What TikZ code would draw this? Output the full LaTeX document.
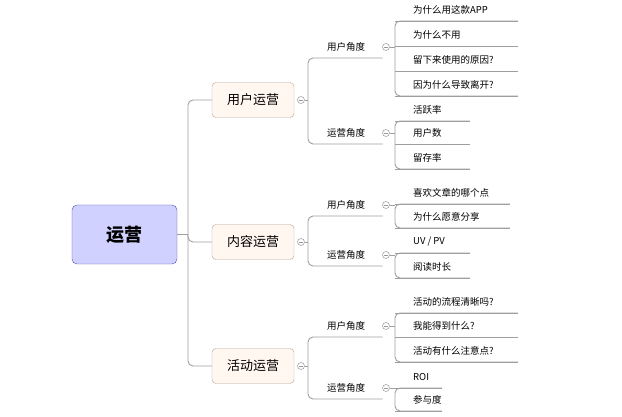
\documentclass[tikz,border=0pt]{standalone}
\usepackage{fontspec}
\newfontfamily\cjk{Noto Sans CJK SC}
\newcommand\uvpvtext{UV / PV}
\begin{document}
\begin{tikzpicture}[x=1pt,y=-1pt,
  ln/.style={draw=gray!75,line width=0.9pt,rounded corners=5pt},
  mid/.style={draw=brown!35!gray!70,fill=orange!6,rounded corners=4pt,minimum width=82pt,minimum height=35pt,font=\cjk\fontsize{13}{15}\selectfont},
  cat/.style={font=\cjk\fontsize{9.5}{11}\selectfont,anchor=west,inner sep=0pt},
  leaf/.style={font=\cjk\fontsize{9.5}{11}\selectfont,anchor=west,inner sep=0pt},
  col/.style={circle,draw=gray!70,fill=white,minimum size=7pt,inner sep=0pt,line width=0.6pt,
    path picture={\draw[gray!80,line width=0.5pt] ([xshift=-2pt]path picture bounding box.center)--([xshift=2pt]path picture bounding box.center);}}]
\useasboundingbox (0,0) rectangle (622,417);
\node[draw=blue!40!gray,fill=blue!18,rounded corners=5pt,minimum width=105pt,minimum height=59pt,font=\cjk\bfseries\fontsize{18}{20}\selectfont] (root) at (124.5,234.5) {运营};
\coordinate (rv) at (188,234.5);
\draw[ln] (root.east)--(rv);
\foreach \name/\txt/\cy/\ua/\ub in {A/用户运营/100/47/133, B/内容运营/242/205/255, C/活动运营/366/326/388}{
  \node[mid] (\name) at (253,\cy) {\txt};
  \node[col] (\name c) at (301,\cy) {};
  \draw[ln] (rv) |- (\name.west);
  \draw[ln] (\name c.east) -- (308,\cy);
  \node[cat] (\name u) at (327,\ua) {用户角度};
  \node[cat] (\name o) at (327,\ub) {运营角度};
  \node[col] (\name uc) at (386,\ua) {};
  \node[col] (\name oc) at (386,\ub) {};
  \draw[ln] (382.5,\ua+11) -- (308,\ua+11) -- (308,\ub+11) -- (382.5,\ub+11);
}
\foreach \c/\cy/\f/\l/\e/\lst in {
  Auc/47/10/85/518/{为什么用这款APP/10,为什么不用/35,留下来使用的原因?/60,因为什么导致离开?/85},
  Aoc/133/110/158/470/{活跃率/110,用户数/133,留存率/158},
  Buc/205/193/217/510/{喜欢文章的哪个点/193,为什么愿意分享/217},
  Boc/255/242/267/470/{\uvpvtext/242,阅读时长/267},
  Cuc/326/302/351/518/{活动的流程清晰吗?/302,我能得到什么?/326,活动有什么注意点?/351},
  Coc/388/377/400/442/{ROI/377,参与度/400}}{
  \draw[ln] (\c.east) -- (395,\cy);
  \draw[ln] (\e,\f+11) -- (395,\f+11) -- (395,\l+11) -- (\e,\l+11);
  \foreach \t/\y [count=\i] in \lst{
    \node[leaf] (\c L\i) at (413,\y) {\t};
    \draw[ln] (395,\y+11) -- (\e,\y+11);
  }
}
\end{tikzpicture}
\end{document}
